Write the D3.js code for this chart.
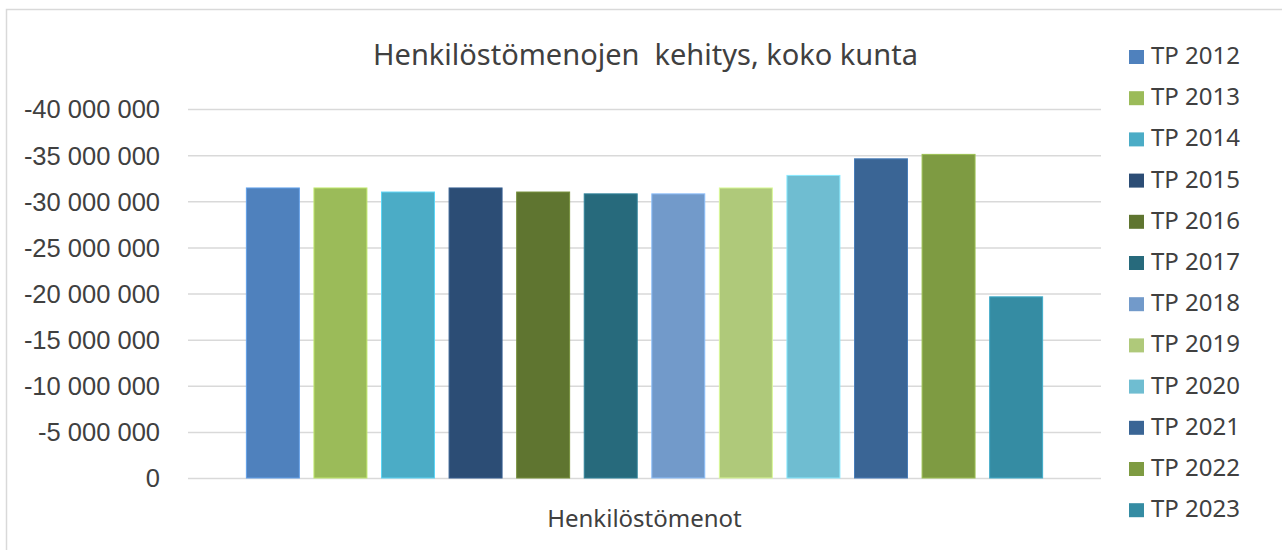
<!DOCTYPE html>
<html lang="fi">
<head>
  <meta charset="UTF-8">
  <title>Henkilöstömenojen kehitys</title>
  <script src="https://d3js.org/d3.v7.min.js"></script>
  <style>
    body { margin: 0; background: #fff; }
    svg { font-family: "Noto Sans", "Open Sans", sans-serif; }
    .grid line { stroke: #d9d9d9; stroke-width: 1.5px; }
    .grid .domain { display: none; }
    .grid text { fill: #404040; font-size: 25.5px; }
    .legend text { fill: #404040; font-size: 24px; }
  </style>
</head>
<body>
  <svg width="1282" height="550"></svg>

  <script>
    // data
    const category = "Henkilöstömenot";
    const years = ["TP 2012", "TP 2013", "TP 2014", "TP 2015", "TP 2016", "TP 2017",
                   "TP 2018", "TP 2019", "TP 2020", "TP 2021", "TP 2022", "TP 2023"];
    const values = [-31440000, -31440000, -31000000, -31440000, -31000000, -30800000,
                    -30800000, -31440000, -32800000, -34600000, -35080000, -19640000];
    const colors = ["#4f81bd", "#9bbb59", "#4bacc6", "#2c4d75", "#5f7530", "#276a7c",
                    "#729aca", "#afc97a", "#6fbdd1", "#3a6595", "#7e9b42", "#358ca3"];
    const yTicks = [0, -5000000, -10000000, -15000000, -20000000, -25000000,
                    -30000000, -35000000, -40000000];

    const svg = d3.select("svg");

    // chart frame
    svg.append("rect")
      .attr("x", 6.5).attr("y", 9.5)
      .attr("width", 1300).attr("height", 560)
      .attr("fill", "none")
      .attr("stroke", "#d9d9d9")
      .attr("stroke-width", 1.5);

    const plot = {left: 188, right: 1101, top: 109, bottom: 478};

    const fi = d3.formatLocale({decimal: ",", thousands: " ", grouping: [3], currency: ["", " €"], minus: "-"});
    const fmt = fi.format(",d");

    const y = d3.scaleLinear()
      .domain([0, -40000000])
      .range([plot.bottom, plot.top]);

    const x0 = d3.scaleBand()
      .domain([category])
      .range([plot.left, plot.right])
      .paddingOuter(0.063);

    const x1 = d3.scaleBand()
      .domain(years)
      .range([0, x0.bandwidth()])
      .paddingInner(0.216)
      .paddingOuter(0.108);

    // gridlines + tick labels
    svg.append("g")
      .attr("class", "grid")
      .attr("transform", `translate(${plot.left},0)`)
      .call(d3.axisLeft(y)
        .tickValues(yTicks)
        .tickFormat(fmt)
        .tickSize(-(plot.right - plot.left))
        .tickPadding(28))
      .selectAll("text")
      .attr("dy", "0.35em");

    // bars
    const g = svg.append("g")
      .attr("transform", `translate(${x0(category)},0)`);

    g.selectAll("rect")
      .data(years.map((d, i) => ({year: d, value: values[i], color: colors[i]})))
      .join("rect")
      .attr("x", d => x1(d.year))
      .attr("y", d => y(d.value))
      .attr("width", x1.bandwidth())
      .attr("height", d => y(0) - y(d.value))
      .attr("fill", d => d.color)
      .attr("stroke", d => d3.color(d.color).brighter(0.6))
      .attr("stroke-width", 1);

    // title
    svg.append("text")
      .attr("x", 645.5)
      .attr("y", 65)
      .attr("text-anchor", "middle")
      .style("white-space", "pre")
      .attr("fill", "#404040")
      .attr("font-size", "29px")
      .text("Henkilöstömenojen  kehitys, koko kunta");

    // category label
    svg.append("text")
      .attr("x", x0(category) + x0.bandwidth() / 2)
      .attr("y", 527)
      .attr("text-anchor", "middle")
      .attr("fill", "#404040")
      .attr("font-size", "24px")
      .text(category);

    // legend
    const legend = svg.append("g")
      .attr("class", "legend")
      .selectAll("g")
      .data(years)
      .join("g")
      .attr("transform", (d, i) => `translate(1129,${50 + i * 41.2})`);

    legend.append("rect")
      .attr("width", 15)
      .attr("height", 14)
      .attr("fill", (d, i) => colors[i]);

    legend.append("text")
      .attr("x", 22)
      .attr("y", 14)
      .text(d => d);
  </script>
</body>
</html>
